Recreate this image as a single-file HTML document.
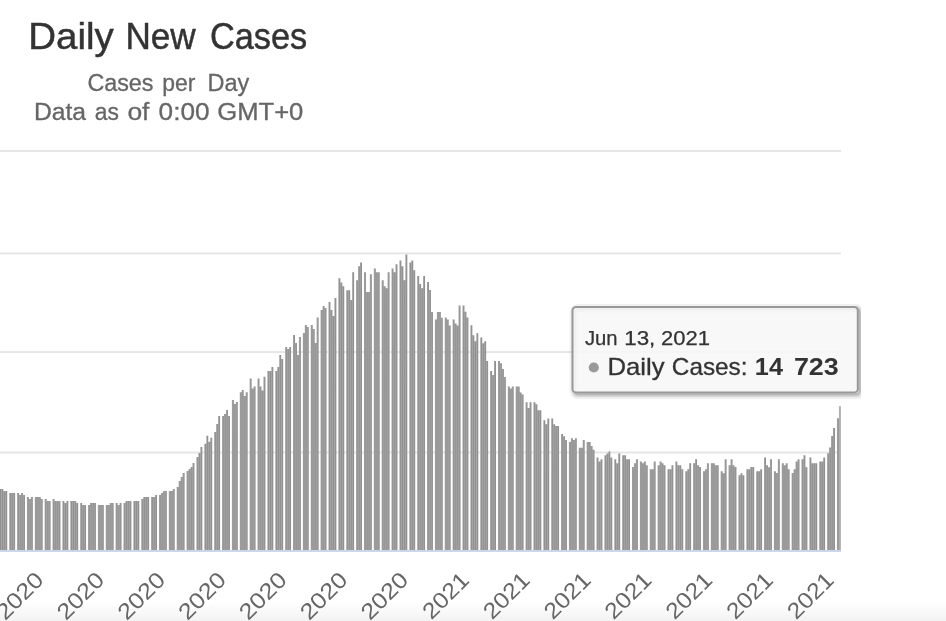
<!DOCTYPE html>
<html><head><meta charset="utf-8"><title>Daily New Cases</title>
<style>
html,body{margin:0;padding:0;background:#fff;}
body{width:946px;height:621px;overflow:hidden;font-family:"Liberation Sans",sans-serif;}
svg{display:block;font-family:"Liberation Sans",sans-serif;will-change:transform;}
</style></head><body>
<svg width="946" height="621" viewBox="0 0 946 621">
<defs><linearGradient id="bg" x1="0" y1="0" x2="0" y2="1"><stop offset="0" stop-color="#fff"/><stop offset="1" stop-color="#f3f3f3"/></linearGradient><clipPath id="cc"><rect x="0" y="0" width="861" height="621"/></clipPath></defs>
<rect width="946" height="621" fill="#fff"/>
<rect x="0" y="602" width="946" height="19" fill="url(#bg)"/>
<rect x="0" y="150.00" width="841" height="2" fill="#e6e6e6"/><rect x="0" y="252.40" width="841" height="2" fill="#e6e6e6"/><rect x="0" y="351.05" width="841" height="2" fill="#e6e6e6"/><rect x="0" y="451.50" width="841" height="2" fill="#e6e6e6"/>
<g transform="scale(0.9854166666666667,1)"><path d="M-0.66 550.0V489.0h2V550.0zM1.34 550.0V489.0h2V550.0zM3.34 550.0V491.0h2V550.0zM5.34 550.0V491.0h2V550.0zM9.34 550.0V493.0h2V550.0zM11.34 550.0V493.0h2V550.0zM13.34 550.0V493.0h2V550.0zM17.34 550.0V493.0h2V550.0zM19.34 550.0V495.0h2V550.0zM21.34 550.0V493.0h2V550.0zM23.34 550.0V495.0h2V550.0zM27.34 550.0V497.0h2V550.0zM29.34 550.0V499.0h2V550.0zM31.34 550.0V497.0h2V550.0zM35.34 550.0V497.0h2V550.0zM37.34 550.0V497.0h2V550.0zM39.34 550.0V497.0h2V550.0zM41.34 550.0V499.0h2V550.0zM45.34 550.0V499.0h2V550.0zM47.34 550.0V501.0h2V550.0zM49.34 550.0V501.0h2V550.0zM53.34 550.0V499.0h2V550.0zM55.34 550.0V501.0h2V550.0zM57.34 550.0V501.0h2V550.0zM59.34 550.0V501.0h2V550.0zM63.34 550.0V501.0h2V550.0zM65.34 550.0V503.0h2V550.0zM67.34 550.0V501.0h2V550.0zM71.34 550.0V501.0h2V550.0zM73.34 550.0V501.0h2V550.0zM75.34 550.0V501.0h2V550.0zM77.34 550.0V503.0h2V550.0zM81.34 550.0V503.0h2V550.0zM83.34 550.0V505.0h2V550.0zM85.34 550.0V505.0h2V550.0zM89.34 550.0V505.0h2V550.0zM91.34 550.0V503.0h2V550.0zM93.34 550.0V503.0h2V550.0zM95.34 550.0V503.0h2V550.0zM99.34 550.0V505.0h2V550.0zM101.34 550.0V505.0h2V550.0zM103.34 550.0V505.0h2V550.0zM107.34 550.0V505.0h2V550.0zM109.34 550.0V505.0h2V550.0zM111.34 550.0V503.0h2V550.0zM113.34 550.0V503.0h2V550.0zM117.34 550.0V503.0h2V550.0zM119.34 550.0V505.0h2V550.0zM121.34 550.0V503.0h2V550.0zM125.34 550.0V503.0h2V550.0zM127.34 550.0V501.0h2V550.0zM129.34 550.0V501.0h2V550.0zM131.34 550.0V501.0h2V550.0zM135.34 550.0V501.0h2V550.0zM137.34 550.0V501.0h2V550.0zM139.34 550.0V501.0h2V550.0zM143.34 550.0V499.0h2V550.0zM145.34 550.0V497.0h2V550.0zM147.34 550.0V497.0h2V550.0zM149.34 550.0V497.0h2V550.0zM153.34 550.0V497.0h2V550.0zM155.34 550.0V497.0h2V550.0zM157.34 550.0V495.0h2V550.0zM161.34 550.0V495.0h2V550.0zM163.34 550.0V493.0h2V550.0zM165.34 550.0V491.0h2V550.0zM167.34 550.0V491.0h2V550.0zM171.34 550.0V491.0h2V550.0zM173.34 550.0V491.0h2V550.0zM175.34 550.0V489.0h2V550.0zM179.34 550.0V487.0h2V550.0zM181.34 550.0V481.0h2V550.0zM183.34 550.0V477.0h2V550.0zM185.34 550.0V473.0h2V550.0zM189.34 550.0V471.0h2V550.0zM191.34 550.0V469.0h2V550.0zM193.34 550.0V467.0h2V550.0zM195.34 550.0V463.0h2V550.0zM199.34 550.0V457.0h2V550.0zM201.34 550.0V453.0h2V550.0zM203.34 550.0V447.0h2V550.0zM207.34 550.0V443.7h2V550.0zM209.34 550.0V435.8h2V550.0zM211.34 550.0V441.8h2V550.0zM213.34 550.0V437.8h2V550.0zM217.34 550.0V431.9h2V550.0zM219.34 550.0V424.0h2V550.0zM221.34 550.0V416.1h2V550.0zM225.34 550.0V416.1h2V550.0zM227.34 550.0V414.0h2V550.0zM229.34 550.0V410.1h2V550.0zM231.34 550.0V416.1h2V550.0zM235.34 550.0V400.1h2V550.0zM237.34 550.0V404.0h2V550.0zM239.34 550.0V402.1h2V550.0zM243.34 550.0V392.2h2V550.0zM245.34 550.0V390.1h2V550.0zM247.34 550.0V396.1h2V550.0zM249.34 550.0V392.2h2V550.0zM253.34 550.0V378.6h2V550.0zM255.34 550.0V388.5h2V550.0zM257.35 550.0V386.5h2V550.0zM261.35 550.0V378.6h2V550.0zM263.35 550.0V386.5h2V550.0zM265.35 550.0V390.5h2V550.0zM267.35 550.0V376.7h2V550.0zM271.35 550.0V371.0h2V550.0zM273.35 550.0V371.0h2V550.0zM275.35 550.0V367.0h2V550.0zM279.35 550.0V371.0h2V550.0zM281.35 550.0V367.0h2V550.0zM283.35 550.0V355.0h2V550.0zM285.35 550.0V359.0h2V550.0zM289.35 550.0V347.0h2V550.0zM291.35 550.0V349.0h2V550.0zM293.35 550.0V347.0h2V550.0zM297.35 550.0V335.0h2V550.0zM299.35 550.0V343.0h2V550.0zM301.35 550.0V355.0h2V550.0zM303.35 550.0V337.0h2V550.0zM307.35 550.0V333.0h2V550.0zM309.35 550.0V325.0h2V550.0zM311.35 550.0V327.0h2V550.0zM315.35 550.0V325.0h2V550.0zM317.35 550.0V329.0h2V550.0zM319.35 550.0V343.0h2V550.0zM321.35 550.0V317.6h2V550.0zM325.35 550.0V310.0h2V550.0zM327.35 550.0V306.0h2V550.0zM329.35 550.0V308.0h2V550.0zM333.35 550.0V302.0h2V550.0zM335.35 550.0V310.0h2V550.0zM337.35 550.0V316.0h2V550.0zM339.35 550.0V298.0h2V550.0zM343.35 550.0V278.3h2V550.0zM345.35 550.0V282.4h2V550.0zM347.35 550.0V286.3h2V550.0zM351.35 550.0V290.2h2V550.0zM353.35 550.0V290.2h2V550.0zM355.35 550.0V300.0h2V550.0zM357.35 550.0V272.3h2V550.0zM361.35 550.0V280.2h2V550.0zM363.35 550.0V266.2h2V550.0zM365.35 550.0V262.4h2V550.0zM369.35 550.0V272.3h2V550.0zM371.35 550.0V292.0h2V550.0zM373.35 550.0V292.0h2V550.0zM375.35 550.0V274.2h2V550.0zM379.35 550.0V268.4h2V550.0zM381.35 550.0V272.3h2V550.0zM383.35 550.0V272.3h2V550.0zM387.35 550.0V280.2h2V550.0zM389.35 550.0V286.3h2V550.0zM391.35 550.0V288.2h2V550.0zM393.35 550.0V272.3h2V550.0zM397.35 550.0V268.4h2V550.0zM399.35 550.0V272.3h2V550.0zM401.35 550.0V264.3h2V550.0zM405.35 550.0V260.4h2V550.0zM407.35 550.0V266.2h2V550.0zM409.35 550.0V280.2h2V550.0zM411.35 550.0V254.4h2V550.0zM415.35 550.0V262.4h2V550.0zM417.35 550.0V260.4h2V550.0zM419.35 550.0V270.3h2V550.0zM423.35 550.0V276.1h2V550.0zM425.35 550.0V284.1h2V550.0zM427.35 550.0V288.2h2V550.0zM429.35 550.0V276.1h2V550.0zM433.35 550.0V282.1h2V550.0zM435.35 550.0V290.1h2V550.0zM437.35 550.0V311.9h2V550.0zM441.35 550.0V319.6h2V550.0zM443.35 550.0V311.9h2V550.0zM445.35 550.0V311.9h2V550.0zM447.35 550.0V317.7h2V550.0zM451.35 550.0V317.5h2V550.0zM453.35 550.0V319.6h2V550.0zM455.35 550.0V325.4h2V550.0zM459.35 550.0V319.6h2V550.0zM461.35 550.0V323.5h2V550.0zM463.35 550.0V325.6h2V550.0zM465.35 550.0V305.6h2V550.0zM469.35 550.0V305.6h2V550.0zM471.35 550.0V311.7h2V550.0zM473.35 550.0V317.5h2V550.0zM477.35 550.0V325.3h2V550.0zM479.35 550.0V335.3h2V550.0zM481.35 550.0V341.3h2V550.0zM483.35 550.0V333.2h2V550.0zM487.35 550.0V337.4h2V550.0zM489.35 550.0V343.2h2V550.0zM491.35 550.0V341.3h2V550.0zM493.35 550.0V361.1h2V550.0zM497.35 550.0V370.9h2V550.0zM499.35 550.0V375.1h2V550.0zM501.35 550.0V361.1h2V550.0zM505.35 550.0V361.1h2V550.0zM507.35 550.0V363.2h2V550.0zM509.35 550.0V369.1h2V550.0zM511.35 550.0V377.0h2V550.0zM515.35 550.0V386.4h2V550.0zM517.35 550.0V388.5h2V550.0zM519.35 550.0V386.4h2V550.0zM523.35 550.0V386.4h2V550.0zM525.35 550.0V386.4h2V550.0zM527.35 550.0V392.5h2V550.0zM529.35 550.0V394.4h2V550.0zM533.35 550.0V402.3h2V550.0zM535.35 550.0V408.1h2V550.0zM537.35 550.0V402.3h2V550.0zM541.35 550.0V402.3h2V550.0zM543.35 550.0V404.3h2V550.0zM545.35 550.0V410.3h2V550.0zM547.35 550.0V410.3h2V550.0zM551.35 550.0V420.3h2V550.0zM553.35 550.0V424.2h2V550.0zM555.35 550.0V418.4h2V550.0zM559.35 550.0V418.4h2V550.0zM561.35 550.0V424.2h2V550.0zM563.35 550.0V426.1h2V550.0zM565.35 550.0V426.1h2V550.0zM569.35 550.0V434.0h2V550.0zM571.35 550.0V436.2h2V550.0zM573.35 550.0V440.1h2V550.0zM577.35 550.0V442.0h2V550.0zM579.35 550.0V438.2h2V550.0zM581.35 550.0V440.1h2V550.0zM583.35 550.0V438.2h2V550.0zM587.35 550.0V447.8h2V550.0zM589.35 550.0V447.8h2V550.0zM591.35 550.0V439.9h2V550.0zM595.35 550.0V442.0h2V550.0zM597.35 550.0V442.0h2V550.0zM599.35 550.0V445.9h2V550.0zM601.35 550.0V449.8h2V550.0zM605.35 550.0V457.4h2V550.0zM607.35 550.0V461.4h2V550.0zM609.35 550.0V459.3h2V550.0zM613.35 550.0V455.3h2V550.0zM615.35 550.0V453.4h2V550.0zM617.35 550.0V451.4h2V550.0zM619.35 550.0V457.4h2V550.0zM623.35 550.0V459.3h2V550.0zM625.35 550.0V463.3h2V550.0zM627.35 550.0V453.4h2V550.0zM631.35 550.0V455.3h2V550.0zM633.35 550.0V455.3h2V550.0zM635.35 550.0V459.3h2V550.0zM637.35 550.0V459.3h2V550.0zM641.35 550.0V467.1h2V550.0zM643.35 550.0V463.3h2V550.0zM645.35 550.0V459.3h2V550.0zM649.35 550.0V461.4h2V550.0zM651.35 550.0V463.3h2V550.0zM653.35 550.0V461.4h2V550.0zM655.35 550.0V465.2h2V550.0zM659.35 550.0V469.3h2V550.0zM661.35 550.0V469.3h2V550.0zM663.35 550.0V461.4h2V550.0zM667.35 550.0V465.2h2V550.0zM669.35 550.0V461.4h2V550.0zM671.35 550.0V463.3h2V550.0zM673.35 550.0V465.2h2V550.0zM677.35 550.0V469.3h2V550.0zM679.35 550.0V469.3h2V550.0zM681.35 550.0V465.2h2V550.0zM685.35 550.0V461.4h2V550.0zM687.35 550.0V465.2h2V550.0zM689.35 550.0V465.2h2V550.0zM691.35 550.0V469.3h2V550.0zM695.35 550.0V471.2h2V550.0zM697.35 550.0V469.3h2V550.0zM699.35 550.0V463.3h2V550.0zM703.35 550.0V463.3h2V550.0zM705.35 550.0V459.3h2V550.0zM707.35 550.0V465.2h2V550.0zM709.35 550.0V467.1h2V550.0zM713.35 550.0V471.2h2V550.0zM715.35 550.0V469.3h2V550.0zM717.35 550.0V463.3h2V550.0zM721.35 550.0V463.3h2V550.0zM723.35 550.0V463.3h2V550.0zM725.35 550.0V465.2h2V550.0zM727.35 550.0V465.2h2V550.0zM731.35 550.0V471.2h2V550.0zM733.35 550.0V473.3h2V550.0zM735.35 550.0V459.3h2V550.0zM739.35 550.0V465.2h2V550.0zM741.35 550.0V459.3h2V550.0zM743.35 550.0V465.2h2V550.0zM745.35 550.0V467.1h2V550.0zM749.35 550.0V475.3h2V550.0zM751.35 550.0V473.3h2V550.0zM753.35 550.0V475.3h2V550.0zM757.35 550.0V469.3h2V550.0zM759.35 550.0V469.3h2V550.0zM761.35 550.0V467.1h2V550.0zM763.35 550.0V467.1h2V550.0zM767.35 550.0V471.2h2V550.0zM769.35 550.0V471.2h2V550.0zM771.35 550.0V469.3h2V550.0zM775.35 550.0V457.4h2V550.0zM777.35 550.0V465.2h2V550.0zM779.35 550.0V467.3h2V550.0zM781.35 550.0V459.3h2V550.0zM785.35 550.0V471.2h2V550.0zM787.35 550.0V473.1h2V550.0zM789.35 550.0V459.3h2V550.0zM793.35 550.0V463.3h2V550.0zM795.35 550.0V465.2h2V550.0zM797.35 550.0V463.3h2V550.0zM799.35 550.0V469.2h2V550.0zM803.35 550.0V473.1h2V550.0zM805.35 550.0V469.2h2V550.0zM807.35 550.0V461.4h2V550.0zM809.35 550.0V459.3h2V550.0zM813.35 550.0V459.3h2V550.0zM815.35 550.0V455.2h2V550.0zM817.35 550.0V467.3h2V550.0zM821.35 550.0V457.4h2V550.0zM823.35 550.0V463.3h2V550.0zM825.35 550.0V463.3h2V550.0zM827.35 550.0V463.3h2V550.0zM831.35 550.0V461.4h2V550.0zM833.35 550.0V461.4h2V550.0zM835.35 550.0V457.4h2V550.0zM839.35 550.0V453.3h2V550.0zM841.35 550.0V447.6h2V550.0zM843.35 550.0V435.9h2V550.0zM845.35 550.0V428.0h2V550.0zM849.35 550.0V418.2h2V550.0z" fill="#919191"/><path d="M-0.96 550.0V489.0h1V550.0zM1.04 550.0V489.0h1V550.0zM3.04 550.0V491.0h1V550.0zM5.04 550.0V491.0h1V550.0zM9.04 550.0V493.0h1V550.0zM11.04 550.0V493.0h1V550.0zM13.04 550.0V493.0h1V550.0zM17.04 550.0V493.0h1V550.0zM19.04 550.0V495.0h1V550.0zM21.04 550.0V493.0h1V550.0zM23.04 550.0V495.0h1V550.0zM27.04 550.0V497.0h1V550.0zM29.04 550.0V499.0h1V550.0zM31.04 550.0V497.0h1V550.0zM35.05 550.0V497.0h1V550.0zM37.05 550.0V497.0h1V550.0zM39.05 550.0V497.0h1V550.0zM41.05 550.0V499.0h1V550.0zM45.05 550.0V499.0h1V550.0zM47.05 550.0V501.0h1V550.0zM49.05 550.0V501.0h1V550.0zM53.05 550.0V499.0h1V550.0zM55.05 550.0V501.0h1V550.0zM57.05 550.0V501.0h1V550.0zM59.05 550.0V501.0h1V550.0zM63.05 550.0V501.0h1V550.0zM65.05 550.0V503.0h1V550.0zM67.05 550.0V501.0h1V550.0zM71.05 550.0V501.0h1V550.0zM73.05 550.0V501.0h1V550.0zM75.05 550.0V501.0h1V550.0zM77.05 550.0V503.0h1V550.0zM81.05 550.0V503.0h1V550.0zM83.05 550.0V505.0h1V550.0zM85.05 550.0V505.0h1V550.0zM89.05 550.0V505.0h1V550.0zM91.05 550.0V503.0h1V550.0zM93.05 550.0V503.0h1V550.0zM95.05 550.0V503.0h1V550.0zM99.05 550.0V505.0h1V550.0zM101.05 550.0V505.0h1V550.0zM103.05 550.0V505.0h1V550.0zM107.05 550.0V505.0h1V550.0zM109.05 550.0V505.0h1V550.0zM111.05 550.0V503.0h1V550.0zM113.05 550.0V503.0h1V550.0zM117.05 550.0V503.0h1V550.0zM119.05 550.0V505.0h1V550.0zM121.05 550.0V503.0h1V550.0zM125.05 550.0V503.0h1V550.0zM127.05 550.0V501.0h1V550.0zM129.04 550.0V501.0h1V550.0zM131.04 550.0V501.0h1V550.0zM135.04 550.0V501.0h1V550.0zM137.04 550.0V501.0h1V550.0zM139.04 550.0V501.0h1V550.0zM143.04 550.0V499.0h1V550.0zM145.04 550.0V497.0h1V550.0zM147.04 550.0V497.0h1V550.0zM149.04 550.0V497.0h1V550.0zM153.04 550.0V497.0h1V550.0zM155.04 550.0V497.0h1V550.0zM157.04 550.0V495.0h1V550.0zM161.04 550.0V495.0h1V550.0zM163.04 550.0V493.0h1V550.0zM165.04 550.0V491.0h1V550.0zM167.04 550.0V491.0h1V550.0zM171.04 550.0V491.0h1V550.0zM173.04 550.0V491.0h1V550.0zM175.04 550.0V489.0h1V550.0zM179.04 550.0V487.0h1V550.0zM181.04 550.0V481.0h1V550.0zM183.04 550.0V477.0h1V550.0zM185.04 550.0V473.0h1V550.0zM189.04 550.0V471.0h1V550.0zM191.04 550.0V469.0h1V550.0zM193.04 550.0V467.0h1V550.0zM195.04 550.0V463.0h1V550.0zM199.04 550.0V457.0h1V550.0zM201.04 550.0V453.0h1V550.0zM203.04 550.0V447.0h1V550.0zM207.04 550.0V443.7h1V550.0zM209.04 550.0V435.8h1V550.0zM211.04 550.0V441.8h1V550.0zM213.04 550.0V437.8h1V550.0zM217.04 550.0V431.9h1V550.0zM219.04 550.0V424.0h1V550.0zM221.04 550.0V416.1h1V550.0zM225.04 550.0V416.1h1V550.0zM227.04 550.0V414.0h1V550.0zM229.04 550.0V410.1h1V550.0zM231.04 550.0V416.1h1V550.0zM235.04 550.0V400.1h1V550.0zM237.04 550.0V404.0h1V550.0zM239.04 550.0V402.1h1V550.0zM243.04 550.0V392.2h1V550.0zM245.04 550.0V390.1h1V550.0zM247.04 550.0V396.1h1V550.0zM249.04 550.0V392.2h1V550.0zM253.04 550.0V378.6h1V550.0zM255.04 550.0V388.5h1V550.0zM257.05 550.0V386.5h1V550.0zM261.05 550.0V378.6h1V550.0zM263.05 550.0V386.5h1V550.0zM265.05 550.0V390.5h1V550.0zM267.05 550.0V376.7h1V550.0zM271.05 550.0V371.0h1V550.0zM273.05 550.0V371.0h1V550.0zM275.05 550.0V367.0h1V550.0zM279.05 550.0V371.0h1V550.0zM281.05 550.0V367.0h1V550.0zM283.05 550.0V355.0h1V550.0zM285.05 550.0V359.0h1V550.0zM289.05 550.0V347.0h1V550.0zM291.05 550.0V349.0h1V550.0zM293.05 550.0V347.0h1V550.0zM297.05 550.0V335.0h1V550.0zM299.05 550.0V343.0h1V550.0zM301.05 550.0V355.0h1V550.0zM303.05 550.0V337.0h1V550.0zM307.05 550.0V333.0h1V550.0zM309.05 550.0V325.0h1V550.0zM311.05 550.0V327.0h1V550.0zM315.05 550.0V325.0h1V550.0zM317.05 550.0V329.0h1V550.0zM319.05 550.0V343.0h1V550.0zM321.05 550.0V317.6h1V550.0zM325.05 550.0V310.0h1V550.0zM327.05 550.0V306.0h1V550.0zM329.05 550.0V308.0h1V550.0zM333.05 550.0V302.0h1V550.0zM335.05 550.0V310.0h1V550.0zM337.05 550.0V316.0h1V550.0zM339.05 550.0V298.0h1V550.0zM343.05 550.0V278.3h1V550.0zM345.05 550.0V282.4h1V550.0zM347.05 550.0V286.3h1V550.0zM351.05 550.0V290.2h1V550.0zM353.05 550.0V290.2h1V550.0zM355.05 550.0V300.0h1V550.0zM357.05 550.0V272.3h1V550.0zM361.05 550.0V280.2h1V550.0zM363.05 550.0V266.2h1V550.0zM365.05 550.0V262.4h1V550.0zM369.05 550.0V272.3h1V550.0zM371.05 550.0V292.0h1V550.0zM373.05 550.0V292.0h1V550.0zM375.05 550.0V274.2h1V550.0zM379.05 550.0V268.4h1V550.0zM381.05 550.0V272.3h1V550.0zM383.05 550.0V272.3h1V550.0zM387.05 550.0V280.2h1V550.0zM389.05 550.0V286.3h1V550.0zM391.05 550.0V288.2h1V550.0zM393.05 550.0V272.3h1V550.0zM397.05 550.0V268.4h1V550.0zM399.05 550.0V272.3h1V550.0zM401.05 550.0V264.3h1V550.0zM405.05 550.0V260.4h1V550.0zM407.05 550.0V266.2h1V550.0zM409.05 550.0V280.2h1V550.0zM411.05 550.0V254.4h1V550.0zM415.05 550.0V262.4h1V550.0zM417.05 550.0V260.4h1V550.0zM419.05 550.0V270.3h1V550.0zM423.05 550.0V276.1h1V550.0zM425.05 550.0V284.1h1V550.0zM427.05 550.0V288.2h1V550.0zM429.05 550.0V276.1h1V550.0zM433.05 550.0V282.1h1V550.0zM435.05 550.0V290.1h1V550.0zM437.05 550.0V311.9h1V550.0zM441.05 550.0V319.6h1V550.0zM443.05 550.0V311.9h1V550.0zM445.05 550.0V311.9h1V550.0zM447.05 550.0V317.7h1V550.0zM451.05 550.0V317.5h1V550.0zM453.05 550.0V319.6h1V550.0zM455.05 550.0V325.4h1V550.0zM459.05 550.0V319.6h1V550.0zM461.05 550.0V323.5h1V550.0zM463.05 550.0V325.6h1V550.0zM465.05 550.0V305.6h1V550.0zM469.05 550.0V305.6h1V550.0zM471.05 550.0V311.7h1V550.0zM473.05 550.0V317.5h1V550.0zM477.05 550.0V325.3h1V550.0zM479.05 550.0V335.3h1V550.0zM481.05 550.0V341.3h1V550.0zM483.05 550.0V333.2h1V550.0zM487.05 550.0V337.4h1V550.0zM489.05 550.0V343.2h1V550.0zM491.05 550.0V341.3h1V550.0zM493.05 550.0V361.1h1V550.0zM497.05 550.0V370.9h1V550.0zM499.05 550.0V375.1h1V550.0zM501.05 550.0V361.1h1V550.0zM505.05 550.0V361.1h1V550.0zM507.05 550.0V363.2h1V550.0zM509.05 550.0V369.1h1V550.0zM511.05 550.0V377.0h1V550.0zM515.05 550.0V386.4h1V550.0zM517.05 550.0V388.5h1V550.0zM519.05 550.0V386.4h1V550.0zM523.05 550.0V386.4h1V550.0zM525.05 550.0V386.4h1V550.0zM527.05 550.0V392.5h1V550.0zM529.05 550.0V394.4h1V550.0zM533.05 550.0V402.3h1V550.0zM535.05 550.0V408.1h1V550.0zM537.05 550.0V402.3h1V550.0zM541.05 550.0V402.3h1V550.0zM543.05 550.0V404.3h1V550.0zM545.05 550.0V410.3h1V550.0zM547.05 550.0V410.3h1V550.0zM551.05 550.0V420.3h1V550.0zM553.05 550.0V424.2h1V550.0zM555.05 550.0V418.4h1V550.0zM559.05 550.0V418.4h1V550.0zM561.05 550.0V424.2h1V550.0zM563.05 550.0V426.1h1V550.0zM565.05 550.0V426.1h1V550.0zM569.05 550.0V434.0h1V550.0zM571.05 550.0V436.2h1V550.0zM573.05 550.0V440.1h1V550.0zM577.05 550.0V442.0h1V550.0zM579.05 550.0V438.2h1V550.0zM581.05 550.0V440.1h1V550.0zM583.05 550.0V438.2h1V550.0zM587.05 550.0V447.8h1V550.0zM589.05 550.0V447.8h1V550.0zM591.05 550.0V439.9h1V550.0zM595.05 550.0V442.0h1V550.0zM597.05 550.0V442.0h1V550.0zM599.05 550.0V445.9h1V550.0zM601.05 550.0V449.8h1V550.0zM605.05 550.0V457.4h1V550.0zM607.05 550.0V461.4h1V550.0zM609.05 550.0V459.3h1V550.0zM613.05 550.0V455.3h1V550.0zM615.05 550.0V453.4h1V550.0zM617.05 550.0V451.4h1V550.0zM619.05 550.0V457.4h1V550.0zM623.05 550.0V459.3h1V550.0zM625.05 550.0V463.3h1V550.0zM627.05 550.0V453.4h1V550.0zM631.05 550.0V455.3h1V550.0zM633.05 550.0V455.3h1V550.0zM635.05 550.0V459.3h1V550.0zM637.05 550.0V459.3h1V550.0zM641.05 550.0V467.1h1V550.0zM643.05 550.0V463.3h1V550.0zM645.05 550.0V459.3h1V550.0zM649.05 550.0V461.4h1V550.0zM651.05 550.0V463.3h1V550.0zM653.05 550.0V461.4h1V550.0zM655.05 550.0V465.2h1V550.0zM659.05 550.0V469.3h1V550.0zM661.05 550.0V469.3h1V550.0zM663.05 550.0V461.4h1V550.0zM667.05 550.0V465.2h1V550.0zM669.05 550.0V461.4h1V550.0zM671.05 550.0V463.3h1V550.0zM673.05 550.0V465.2h1V550.0zM677.05 550.0V469.3h1V550.0zM679.05 550.0V469.3h1V550.0zM681.05 550.0V465.2h1V550.0zM685.05 550.0V461.4h1V550.0zM687.05 550.0V465.2h1V550.0zM689.05 550.0V465.2h1V550.0zM691.05 550.0V469.3h1V550.0zM695.05 550.0V471.2h1V550.0zM697.05 550.0V469.3h1V550.0zM699.05 550.0V463.3h1V550.0zM703.05 550.0V463.3h1V550.0zM705.05 550.0V459.3h1V550.0zM707.05 550.0V465.2h1V550.0zM709.05 550.0V467.1h1V550.0zM713.05 550.0V471.2h1V550.0zM715.05 550.0V469.3h1V550.0zM717.05 550.0V463.3h1V550.0zM721.05 550.0V463.3h1V550.0zM723.05 550.0V463.3h1V550.0zM725.05 550.0V465.2h1V550.0zM727.05 550.0V465.2h1V550.0zM731.05 550.0V471.2h1V550.0zM733.05 550.0V473.3h1V550.0zM735.05 550.0V459.3h1V550.0zM739.05 550.0V465.2h1V550.0zM741.05 550.0V459.3h1V550.0zM743.05 550.0V465.2h1V550.0zM745.05 550.0V467.1h1V550.0zM749.05 550.0V475.3h1V550.0zM751.05 550.0V473.3h1V550.0zM753.05 550.0V475.3h1V550.0zM757.05 550.0V469.3h1V550.0zM759.05 550.0V469.3h1V550.0zM761.05 550.0V467.1h1V550.0zM763.05 550.0V467.1h1V550.0zM767.05 550.0V471.2h1V550.0zM769.05 550.0V471.2h1V550.0zM771.05 550.0V469.3h1V550.0zM775.05 550.0V457.4h1V550.0zM777.05 550.0V465.2h1V550.0zM779.05 550.0V467.3h1V550.0zM781.05 550.0V459.3h1V550.0zM785.05 550.0V471.2h1V550.0zM787.05 550.0V473.1h1V550.0zM789.05 550.0V459.3h1V550.0zM793.05 550.0V463.3h1V550.0zM795.05 550.0V465.2h1V550.0zM797.05 550.0V463.3h1V550.0zM799.05 550.0V469.2h1V550.0zM803.05 550.0V473.1h1V550.0zM805.05 550.0V469.2h1V550.0zM807.05 550.0V461.4h1V550.0zM809.05 550.0V459.3h1V550.0zM813.05 550.0V459.3h1V550.0zM815.05 550.0V455.2h1V550.0zM817.05 550.0V467.3h1V550.0zM821.05 550.0V457.4h1V550.0zM823.05 550.0V463.3h1V550.0zM825.05 550.0V463.3h1V550.0zM827.05 550.0V463.3h1V550.0zM831.05 550.0V461.4h1V550.0zM833.05 550.0V461.4h1V550.0zM835.05 550.0V457.4h1V550.0zM839.05 550.0V453.3h1V550.0zM841.05 550.0V447.6h1V550.0zM843.05 550.0V435.9h1V550.0zM845.05 550.0V428.0h1V550.0zM849.05 550.0V418.2h1V550.0z" fill="#fff" fill-opacity="0.19"/><rect x="851.35" y="406.1" width="2" height="143.9" fill="#b0b0b0"/></g>
<rect x="0" y="550" width="841" height="2" fill="#ccd6eb"/>
<text transform="translate(45.0,581.4) rotate(-45)" text-anchor="end" font-size="22.5" fill="#666" textLength="56.4" lengthAdjust="spacingAndGlyphs">2020</text><text transform="translate(105.8,581.4) rotate(-45)" text-anchor="end" font-size="22.5" fill="#666" textLength="56.4" lengthAdjust="spacingAndGlyphs">2020</text><text transform="translate(166.6,581.4) rotate(-45)" text-anchor="end" font-size="22.5" fill="#666" textLength="56.4" lengthAdjust="spacingAndGlyphs">2020</text><text transform="translate(227.4,581.4) rotate(-45)" text-anchor="end" font-size="22.5" fill="#666" textLength="56.4" lengthAdjust="spacingAndGlyphs">2020</text><text transform="translate(288.2,581.4) rotate(-45)" text-anchor="end" font-size="22.5" fill="#666" textLength="56.4" lengthAdjust="spacingAndGlyphs">2020</text><text transform="translate(349.0,581.4) rotate(-45)" text-anchor="end" font-size="22.5" fill="#666" textLength="56.4" lengthAdjust="spacingAndGlyphs">2020</text><text transform="translate(409.8,581.4) rotate(-45)" text-anchor="end" font-size="22.5" fill="#666" textLength="56.4" lengthAdjust="spacingAndGlyphs">2020</text><text transform="translate(470.6,581.4) rotate(-45)" text-anchor="end" font-size="22.5" fill="#666" textLength="55.4" lengthAdjust="spacingAndGlyphs">2021</text><text transform="translate(531.4,581.4) rotate(-45)" text-anchor="end" font-size="22.5" fill="#666" textLength="55.4" lengthAdjust="spacingAndGlyphs">2021</text><text transform="translate(592.2,581.4) rotate(-45)" text-anchor="end" font-size="22.5" fill="#666" textLength="55.4" lengthAdjust="spacingAndGlyphs">2021</text><text transform="translate(653.0,581.4) rotate(-45)" text-anchor="end" font-size="22.5" fill="#666" textLength="55.4" lengthAdjust="spacingAndGlyphs">2021</text><text transform="translate(713.8,581.4) rotate(-45)" text-anchor="end" font-size="22.5" fill="#666" textLength="55.4" lengthAdjust="spacingAndGlyphs">2021</text><text transform="translate(774.6,581.4) rotate(-45)" text-anchor="end" font-size="22.5" fill="#666" textLength="55.4" lengthAdjust="spacingAndGlyphs">2021</text><text transform="translate(835.4,581.4) rotate(-45)" text-anchor="end" font-size="22.5" fill="#666" textLength="55.4" lengthAdjust="spacingAndGlyphs">2021</text>
<text x="28.22" y="48.8" font-size="36" fill="#333" textLength="85.49" lengthAdjust="spacingAndGlyphs" stroke="#333" stroke-width="0.45">Daily</text><text x="125.39" y="48.8" font-size="36" fill="#333" textLength="70.25" lengthAdjust="spacingAndGlyphs" stroke="#333" stroke-width="0.45">New</text><text x="209.88" y="48.8" font-size="36" fill="#333" textLength="97.30" lengthAdjust="spacingAndGlyphs" stroke="#333" stroke-width="0.45">Cases</text>
<text x="87.43" y="90.7" font-size="23" fill="#666" textLength="66.07" lengthAdjust="spacingAndGlyphs" stroke="#666" stroke-width="0.3">Cases</text><text x="162.32" y="90.7" font-size="23" fill="#666" textLength="33.13" lengthAdjust="spacingAndGlyphs" stroke="#666" stroke-width="0.3">per</text><text x="207.52" y="90.7" font-size="23" fill="#666" textLength="41.74" lengthAdjust="spacingAndGlyphs" stroke="#666" stroke-width="0.3">Day</text><text x="33.93" y="119.5" font-size="23" fill="#666" textLength="52.11" lengthAdjust="spacingAndGlyphs" stroke="#666" stroke-width="0.3">Data</text><text x="94.69" y="119.5" font-size="23" fill="#666" textLength="24.14" lengthAdjust="spacingAndGlyphs" stroke="#666" stroke-width="0.3">as</text><text x="127.44" y="119.5" font-size="23" fill="#666" textLength="22.03" lengthAdjust="spacingAndGlyphs" stroke="#666" stroke-width="0.3">of</text><text x="158.58" y="119.5" font-size="23" fill="#666" textLength="50.97" lengthAdjust="spacingAndGlyphs" stroke="#666" stroke-width="0.3">0:00</text><text x="217.22" y="119.5" font-size="23" fill="#666" textLength="86.13" lengthAdjust="spacingAndGlyphs" stroke="#666" stroke-width="0.3">GMT+0</text>
<g clip-path="url(#cc)"><rect x="574.5" y="309" width="285.3" height="85.4" rx="3.5" fill="none" stroke="#000" stroke-opacity="0.05" stroke-width="9.9"/><rect x="574.5" y="309" width="285.3" height="85.4" rx="3.5" fill="none" stroke="#000" stroke-opacity="0.10" stroke-width="5.9"/><rect x="574.5" y="309" width="285.3" height="85.4" rx="3.5" fill="none" stroke="#000" stroke-opacity="0.15" stroke-width="2"/><rect x="572.5" y="307" width="285.3" height="85.4" rx="3.5" fill="#f7f7f7" fill-opacity="0.88" stroke="#999" stroke-width="2"/><text x="584.90" y="344.9" font-size="20.6" fill="#333" textLength="32.67" lengthAdjust="spacingAndGlyphs" stroke="#333" stroke-width="0.25">Jun</text><text x="624.22" y="344.9" font-size="20.6" fill="#333" textLength="31.09" lengthAdjust="spacingAndGlyphs" stroke="#333" stroke-width="0.25">13,</text><text x="661.00" y="344.9" font-size="20.6" fill="#333" textLength="48.98" lengthAdjust="spacingAndGlyphs" stroke="#333" stroke-width="0.25">2021</text><circle cx="593.8" cy="367.5" r="5.1" fill="#999"/><text x="607.54" y="374.6" font-size="24" fill="#333" textLength="57.10" lengthAdjust="spacingAndGlyphs" stroke="#333" stroke-width="0.3">Daily</text><text x="671.88" y="374.6" font-size="24" fill="#333" textLength="75.64" lengthAdjust="spacingAndGlyphs" stroke="#333" stroke-width="0.3">Cases:</text><text x="754.89" y="374.6" font-size="24" fill="#333" font-weight="bold" textLength="28.07" lengthAdjust="spacingAndGlyphs">14</text><text x="793.93" y="374.6" font-size="24" fill="#333" font-weight="bold" textLength="44.81" lengthAdjust="spacingAndGlyphs">723</text></g>
</svg>
</body></html>
